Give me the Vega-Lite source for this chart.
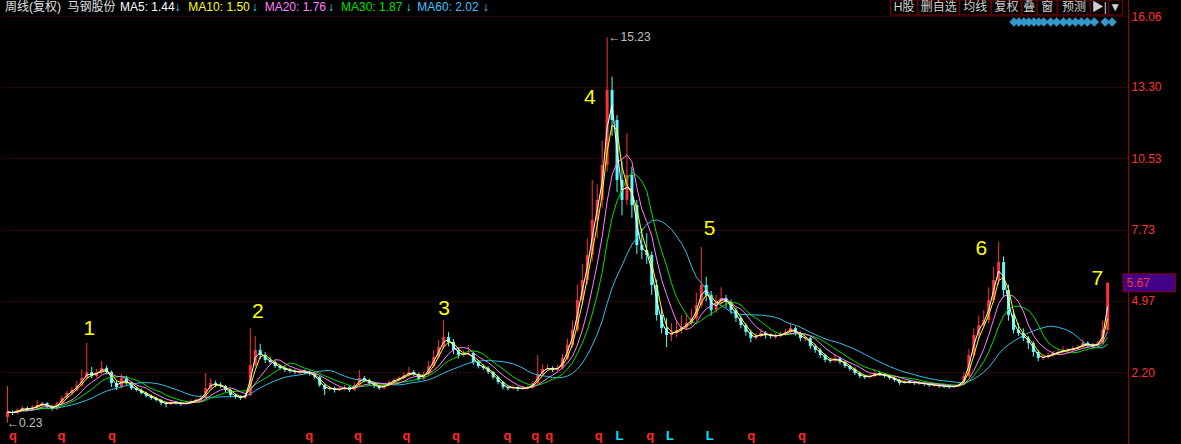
{
"$schema":"https://vega.github.io/schema/vega-lite/v6.json",
"width":1128,"height":444,
"autosize":{"type":"none"},
"padding":{"left":0,"top":0,"right":53,"bottom":0},
"background":"#000000",
"config":{"view":{"stroke":null},"text":{"font":"Liberation Sans, Noto Sans CJK SC"}},
"datasets":{
"candles":[
{"i":0,"o":0.45,"h":1.65,"l":0.23,"c":0.64},{"i":1,"o":0.64,"h":0.70,"l":0.52,"c":0.60},{"i":2,"o":0.60,"h":0.78,"l":0.55,"c":0.72},{"i":3,"o":0.72,"h":0.88,"l":0.68,"c":0.80},{"i":4,"o":0.80,"h":0.86,"l":0.66,"c":0.72},{"i":5,"o":0.72,"h":0.92,"l":0.68,"c":0.84},{"i":6,"o":0.84,"h":1.10,"l":0.80,"c":0.91},{"i":7,"o":0.91,"h":1.05,"l":0.86,"c":0.99},{"i":8,"o":0.99,"h":1.03,"l":0.78,"c":0.84},{"i":9,"o":0.84,"h":0.90,"l":0.70,"c":0.76},
{"i":10,"o":0.76,"h":1.05,"l":0.72,"c":0.99},{"i":11,"o":0.99,"h":1.28,"l":0.95,"c":1.19},{"i":12,"o":1.19,"h":1.47,"l":1.12,"c":1.38},{"i":13,"o":1.38,"h":1.62,"l":1.30,"c":1.50},{"i":14,"o":1.50,"h":1.85,"l":1.44,"c":1.69},{"i":15,"o":1.69,"h":2.30,"l":1.62,"c":1.97},{"i":16,"o":1.97,"h":3.33,"l":1.90,"c":2.20},{"i":17,"o":2.20,"h":2.40,"l":1.95,"c":2.04},{"i":18,"o":2.04,"h":2.32,"l":1.98,"c":2.20},{"i":19,"o":2.20,"h":2.62,"l":2.12,"c":2.36},
{"i":20,"o":2.36,"h":2.45,"l":2.10,"c":2.20},{"i":21,"o":2.20,"h":2.26,"l":1.62,"c":1.77},{"i":22,"o":1.77,"h":1.86,"l":1.50,"c":1.61},{"i":23,"o":1.61,"h":2.12,"l":1.56,"c":1.97},{"i":24,"o":1.97,"h":2.05,"l":1.70,"c":1.77},{"i":25,"o":1.77,"h":1.82,"l":1.50,"c":1.57},{"i":26,"o":1.57,"h":1.63,"l":1.44,"c":1.50},{"i":27,"o":1.50,"h":1.56,"l":1.32,"c":1.38},{"i":28,"o":1.38,"h":1.44,"l":1.21,"c":1.27},{"i":29,"o":1.27,"h":1.33,"l":1.12,"c":1.19},
{"i":30,"o":1.19,"h":1.24,"l":1.05,"c":1.11},{"i":31,"o":1.11,"h":1.16,"l":0.92,"c":0.99},{"i":32,"o":0.99,"h":1.05,"l":0.82,"c":0.95},{"i":33,"o":0.95,"h":1.10,"l":0.90,"c":1.03},{"i":34,"o":1.03,"h":1.08,"l":0.93,"c":0.99},{"i":35,"o":0.99,"h":1.04,"l":0.88,"c":0.95},{"i":36,"o":0.95,"h":1.06,"l":0.90,"c":0.99},{"i":37,"o":0.99,"h":1.14,"l":0.95,"c":1.07},{"i":38,"o":1.07,"h":1.18,"l":1.02,"c":1.11},{"i":39,"o":1.11,"h":1.30,"l":1.06,"c":1.19},
{"i":40,"o":1.19,"h":2.16,"l":1.15,"c":1.57},{"i":41,"o":1.57,"h":1.95,"l":1.50,"c":1.77},{"i":42,"o":1.77,"h":1.86,"l":1.60,"c":1.69},{"i":43,"o":1.69,"h":1.80,"l":1.58,"c":1.65},{"i":44,"o":1.65,"h":1.70,"l":1.42,"c":1.50},{"i":45,"o":1.50,"h":1.55,"l":1.22,"c":1.30},{"i":46,"o":1.30,"h":1.36,"l":1.16,"c":1.23},{"i":47,"o":1.23,"h":1.30,"l":1.12,"c":1.19},{"i":48,"o":1.19,"h":1.40,"l":1.15,"c":1.30},{"i":49,"o":1.30,"h":3.91,"l":1.26,"c":2.47},
{"i":50,"o":2.47,"h":3.60,"l":2.40,"c":3.06},{"i":51,"o":3.06,"h":3.30,"l":2.70,"c":2.86},{"i":52,"o":2.86,"h":2.98,"l":2.55,"c":2.67},{"i":53,"o":2.67,"h":2.80,"l":2.50,"c":2.59},{"i":54,"o":2.59,"h":2.66,"l":2.35,"c":2.43},{"i":55,"o":2.43,"h":2.50,"l":2.28,"c":2.36},{"i":56,"o":2.36,"h":2.42,"l":2.20,"c":2.28},{"i":57,"o":2.28,"h":2.35,"l":2.16,"c":2.24},{"i":58,"o":2.24,"h":2.30,"l":2.12,"c":2.20},{"i":59,"o":2.16,"h":2.28,"l":2.10,"c":2.20},
{"i":60,"o":2.24,"h":2.30,"l":2.12,"c":2.20},{"i":61,"o":2.20,"h":2.26,"l":2.05,"c":2.12},{"i":62,"o":2.12,"h":2.18,"l":1.92,"c":2.00},{"i":63,"o":2.00,"h":2.05,"l":1.62,"c":1.69},{"i":64,"o":1.69,"h":1.75,"l":1.30,"c":1.54},{"i":65,"o":1.54,"h":1.66,"l":1.48,"c":1.57},{"i":66,"o":1.57,"h":1.62,"l":1.40,"c":1.50},{"i":67,"o":1.50,"h":1.62,"l":1.45,"c":1.54},{"i":68,"o":1.54,"h":1.70,"l":1.48,"c":1.61},{"i":69,"o":1.61,"h":1.66,"l":1.42,"c":1.50},
{"i":70,"o":1.50,"h":1.80,"l":1.46,"c":1.69},{"i":71,"o":1.69,"h":2.28,"l":1.64,"c":1.97},{"i":72,"o":1.97,"h":2.05,"l":1.80,"c":1.89},{"i":73,"o":1.89,"h":1.94,"l":1.70,"c":1.77},{"i":74,"o":1.77,"h":1.82,"l":1.58,"c":1.65},{"i":75,"o":1.65,"h":1.70,"l":1.50,"c":1.57},{"i":76,"o":1.57,"h":1.76,"l":1.52,"c":1.69},{"i":77,"o":1.69,"h":1.88,"l":1.64,"c":1.81},{"i":78,"o":1.81,"h":1.96,"l":1.76,"c":1.89},{"i":79,"o":1.89,"h":2.05,"l":1.84,"c":1.97},
{"i":80,"o":1.97,"h":2.18,"l":1.92,"c":2.08},{"i":81,"o":2.08,"h":2.40,"l":2.02,"c":2.20},{"i":82,"o":2.20,"h":2.28,"l":2.04,"c":2.12},{"i":83,"o":2.12,"h":2.18,"l":1.86,"c":1.93},{"i":84,"o":1.93,"h":2.22,"l":1.88,"c":2.12},{"i":85,"o":2.12,"h":2.62,"l":2.08,"c":2.43},{"i":86,"o":2.43,"h":3.05,"l":2.38,"c":2.78},{"i":87,"o":2.78,"h":3.45,"l":2.72,"c":3.17},{"i":88,"o":3.17,"h":4.22,"l":3.10,"c":3.56},{"i":89,"o":3.56,"h":3.75,"l":3.20,"c":3.37},
{"i":90,"o":3.37,"h":3.48,"l":2.90,"c":3.06},{"i":91,"o":3.06,"h":3.15,"l":2.72,"c":2.86},{"i":92,"o":2.86,"h":3.05,"l":2.80,"c":2.90},{"i":93,"o":2.90,"h":3.25,"l":2.84,"c":2.94},{"i":94,"o":2.94,"h":3.00,"l":2.48,"c":2.59},{"i":95,"o":2.59,"h":2.66,"l":2.34,"c":2.43},{"i":96,"o":2.43,"h":2.50,"l":2.28,"c":2.36},{"i":97,"o":2.36,"h":2.42,"l":2.12,"c":2.20},{"i":98,"o":2.20,"h":2.25,"l":1.92,"c":2.00},{"i":99,"o":2.00,"h":2.06,"l":1.72,"c":1.81},
{"i":100,"o":1.81,"h":1.86,"l":1.52,"c":1.61},{"i":101,"o":1.61,"h":1.66,"l":1.48,"c":1.57},{"i":102,"o":1.57,"h":1.70,"l":1.52,"c":1.61},{"i":103,"o":1.61,"h":1.65,"l":1.45,"c":1.54},{"i":104,"o":1.54,"h":1.64,"l":1.50,"c":1.57},{"i":105,"o":1.57,"h":1.68,"l":1.52,"c":1.61},{"i":106,"o":1.61,"h":1.86,"l":1.56,"c":1.77},{"i":107,"o":1.77,"h":2.86,"l":1.72,"c":2.12},{"i":108,"o":2.12,"h":2.50,"l":2.06,"c":2.32},{"i":109,"o":2.32,"h":2.50,"l":2.26,"c":2.36},
{"i":110,"o":2.36,"h":2.42,"l":2.20,"c":2.28},{"i":111,"o":2.28,"h":2.48,"l":2.22,"c":2.36},{"i":112,"o":2.36,"h":2.90,"l":2.30,"c":2.74},{"i":113,"o":2.74,"h":3.50,"l":2.66,"c":3.25},{"i":114,"o":3.25,"h":4.20,"l":3.15,"c":3.84},{"i":115,"o":3.84,"h":5.60,"l":3.75,"c":5.00},{"i":116,"o":5.00,"h":6.40,"l":4.80,"c":5.78},{"i":117,"o":5.78,"h":7.40,"l":5.60,"c":6.76},{"i":118,"o":6.76,"h":9.68,"l":6.50,"c":8.12},{"i":119,"o":8.12,"h":9.50,"l":7.40,"c":8.90},
{"i":120,"o":8.90,"h":11.20,"l":8.60,"c":10.26},{"i":121,"o":10.26,"h":15.23,"l":10.00,"c":13.18},{"i":122,"o":13.18,"h":13.70,"l":11.40,"c":12.01},{"i":123,"o":12.01,"h":12.20,"l":9.20,"c":9.68},{"i":124,"o":9.68,"h":10.40,"l":8.30,"c":8.90},{"i":125,"o":8.90,"h":11.50,"l":8.70,"c":9.87},{"i":126,"o":9.87,"h":10.20,"l":8.20,"c":8.70},{"i":127,"o":8.70,"h":8.90,"l":6.80,"c":7.14},{"i":128,"o":7.14,"h":7.80,"l":6.60,"c":6.95},{"i":129,"o":6.95,"h":7.60,"l":6.40,"c":6.76},
{"i":130,"o":6.76,"h":6.90,"l":5.20,"c":5.59},{"i":131,"o":5.59,"h":5.80,"l":4.20,"c":4.42},{"i":132,"o":4.42,"h":4.70,"l":3.70,"c":3.91},{"i":133,"o":3.91,"h":4.30,"l":3.17,"c":3.64},{"i":134,"o":3.64,"h":4.10,"l":3.40,"c":3.72},{"i":135,"o":3.72,"h":4.20,"l":3.55,"c":3.84},{"i":136,"o":3.84,"h":4.40,"l":3.70,"c":3.95},{"i":137,"o":3.95,"h":4.50,"l":3.85,"c":4.11},{"i":138,"o":4.11,"h":4.65,"l":4.00,"c":4.30},{"i":139,"o":4.30,"h":5.30,"l":4.20,"c":4.81},
{"i":140,"o":4.81,"h":7.07,"l":4.70,"c":5.59},{"i":141,"o":5.59,"h":5.90,"l":4.95,"c":5.20},{"i":142,"o":5.20,"h":5.35,"l":4.40,"c":4.61},{"i":143,"o":4.61,"h":5.20,"l":4.50,"c":4.93},{"i":144,"o":4.93,"h":5.50,"l":4.80,"c":5.08},{"i":145,"o":5.08,"h":5.20,"l":4.70,"c":4.93},{"i":146,"o":4.93,"h":5.02,"l":4.45,"c":4.61},{"i":147,"o":4.61,"h":4.70,"l":4.15,"c":4.30},{"i":148,"o":4.30,"h":4.40,"l":3.90,"c":4.03},{"i":149,"o":4.03,"h":4.10,"l":3.62,"c":3.76},
{"i":150,"o":3.76,"h":3.85,"l":3.35,"c":3.52},{"i":151,"o":3.52,"h":3.72,"l":3.45,"c":3.60},{"i":152,"o":3.60,"h":3.85,"l":3.55,"c":3.72},{"i":153,"o":3.72,"h":3.80,"l":3.50,"c":3.64},{"i":154,"o":3.64,"h":3.70,"l":3.50,"c":3.60},{"i":155,"o":3.56,"h":3.72,"l":3.48,"c":3.60},{"i":156,"o":3.60,"h":3.78,"l":3.55,"c":3.68},{"i":157,"o":3.68,"h":3.88,"l":3.62,"c":3.76},{"i":158,"o":3.76,"h":4.12,"l":3.70,"c":3.91},{"i":159,"o":3.91,"h":3.98,"l":3.62,"c":3.72},
{"i":160,"o":3.72,"h":3.78,"l":3.40,"c":3.52},{"i":161,"o":3.48,"h":3.62,"l":3.40,"c":3.52},{"i":162,"o":3.52,"h":3.58,"l":3.10,"c":3.21},{"i":163,"o":3.21,"h":3.28,"l":2.95,"c":3.06},{"i":164,"o":3.06,"h":3.12,"l":2.75,"c":2.86},{"i":165,"o":2.86,"h":2.92,"l":2.58,"c":2.67},{"i":166,"o":2.67,"h":2.72,"l":2.55,"c":2.63},{"i":167,"o":2.63,"h":2.90,"l":2.58,"c":2.74},{"i":168,"o":2.74,"h":2.80,"l":2.50,"c":2.59},{"i":169,"o":2.59,"h":2.64,"l":2.35,"c":2.43},
{"i":170,"o":2.43,"h":2.48,"l":2.24,"c":2.32},{"i":171,"o":2.32,"h":2.38,"l":2.08,"c":2.16},{"i":172,"o":2.16,"h":2.22,"l":1.96,"c":2.04},{"i":173,"o":2.04,"h":2.10,"l":1.92,"c":2.00},{"i":174,"o":2.00,"h":2.12,"l":1.95,"c":2.04},{"i":175,"o":2.04,"h":2.30,"l":2.00,"c":2.16},{"i":176,"o":2.16,"h":2.22,"l":2.05,"c":2.12},{"i":177,"o":2.12,"h":2.16,"l":1.98,"c":2.04},{"i":178,"o":2.04,"h":2.08,"l":1.90,"c":1.97},{"i":179,"o":1.97,"h":2.02,"l":1.82,"c":1.89},
{"i":180,"o":1.89,"h":1.94,"l":1.70,"c":1.77},{"i":181,"o":1.77,"h":1.88,"l":1.73,"c":1.81},{"i":182,"o":1.84,"h":1.90,"l":1.75,"c":1.81},{"i":183,"o":1.81,"h":1.86,"l":1.70,"c":1.77},{"i":184,"o":1.74,"h":1.84,"l":1.70,"c":1.77},{"i":185,"o":1.77,"h":1.82,"l":1.66,"c":1.73},{"i":186,"o":1.73,"h":1.78,"l":1.62,"c":1.69},{"i":187,"o":1.66,"h":1.76,"l":1.62,"c":1.69},{"i":188,"o":1.69,"h":1.74,"l":1.58,"c":1.65},{"i":189,"o":1.68,"h":1.72,"l":1.58,"c":1.65},
{"i":190,"o":1.65,"h":1.70,"l":1.55,"c":1.61},{"i":191,"o":1.61,"h":1.72,"l":1.58,"c":1.65},{"i":192,"o":1.65,"h":1.82,"l":1.62,"c":1.73},{"i":193,"o":1.73,"h":2.20,"l":1.70,"c":2.04},{"i":194,"o":2.04,"h":3.10,"l":2.00,"c":2.86},{"i":195,"o":2.86,"h":3.90,"l":2.80,"c":3.64},{"i":196,"o":3.64,"h":4.40,"l":3.50,"c":4.03},{"i":197,"o":4.03,"h":4.60,"l":3.90,"c":4.22},{"i":198,"o":4.22,"h":5.50,"l":4.10,"c":5.00},{"i":199,"o":5.00,"h":6.30,"l":4.90,"c":5.78},
{"i":200,"o":5.78,"h":7.26,"l":5.60,"c":6.48},{"i":201,"o":6.48,"h":6.70,"l":5.10,"c":5.39},{"i":202,"o":5.39,"h":5.60,"l":4.20,"c":4.42},{"i":203,"o":4.42,"h":4.60,"l":3.70,"c":3.84},{"i":204,"o":3.84,"h":4.10,"l":3.60,"c":3.72},{"i":205,"o":3.72,"h":3.90,"l":3.40,"c":3.52},{"i":206,"o":3.52,"h":3.60,"l":3.10,"c":3.33},{"i":207,"o":3.33,"h":3.40,"l":2.80,"c":2.98},{"i":208,"o":2.98,"h":3.05,"l":2.62,"c":2.74},{"i":209,"o":2.74,"h":2.88,"l":2.66,"c":2.78},
{"i":210,"o":2.78,"h":2.95,"l":2.72,"c":2.86},{"i":211,"o":2.86,"h":3.02,"l":2.80,"c":2.94},{"i":212,"o":2.94,"h":3.10,"l":2.88,"c":2.98},{"i":213,"o":2.98,"h":3.20,"l":2.92,"c":3.06},{"i":214,"o":3.02,"h":3.14,"l":2.96,"c":3.06},{"i":215,"o":3.06,"h":3.22,"l":3.00,"c":3.13},{"i":216,"o":3.13,"h":3.26,"l":3.06,"c":3.17},{"i":217,"o":3.17,"h":3.50,"l":3.10,"c":3.33},{"i":218,"o":3.33,"h":3.40,"l":3.16,"c":3.25},{"i":219,"o":3.25,"h":3.32,"l":3.12,"c":3.21},
{"i":220,"o":3.21,"h":3.42,"l":3.15,"c":3.33},{"i":221,"o":3.33,"h":4.20,"l":3.28,"c":3.84},{"i":222,"o":3.84,"h":5.70,"l":3.80,"c":5.67}
],
"header":[
{"i":-0.5,"p":16.41,"t":"周线(复权)","k":"name"},
{"i":12.1,"p":16.41,"t":"马钢股份","k":"name"},
{"i":22.7,"p":16.41,"t":"MA5: 1.44","k":"ma5"},
{"i":33.7,"p":16.41,"t":"↓","k":"arrow"},
{"i":36.5,"p":16.41,"t":"MA10: 1.50","k":"ma10"},
{"i":49.3,"p":16.41,"t":"↓","k":"arrow"},
{"i":51.9,"p":16.41,"t":"MA20: 1.76","k":"ma20"},
{"i":64.7,"p":16.41,"t":"↓","k":"arrow"},
{"i":67.3,"p":16.41,"t":"MA30: 1.87","k":"ma30"},
{"i":80.3,"p":16.41,"t":"↓","k":"arrow"},
{"i":82.7,"p":16.41,"t":"MA60: 2.02","k":"ma60"},
{"i":95.9,"p":16.41,"t":"↓","k":"arrow"}
],
"buttons":[
{"a":178.16,"b":183.7,"m":180.9,"t":"H股"},
{"a":183.7,"b":192.16,"m":187.9,"t":"删自选"},
{"a":192.16,"b":198.5,"m":195.3,"t":"均线"},
{"a":198.5,"b":204.7,"m":201.6,"t":"复权"},
{"a":204.7,"b":207.76,"m":206.2,"t":"叠"},
{"a":207.76,"b":211.84,"m":209.8,"t":"窗"},
{"a":211.84,"b":218.5,"m":215.2,"t":"预测"},
{"a":218.5,"b":222.16,"m":220.3,"t":"▶|"},
{"a":222.16,"b":224.96,"m":223.5,"t":"▼"}
],
"diamonds":[
{"i":203.1},{"i":204.1},{"i":205.1},{"i":206.1},{"i":207.1},{"i":208.1},{"i":209.1},{"i":210.5},{"i":211.7},{"i":213.1},{"i":214.3},{"i":215.5},{"i":216.7},{"i":217.9},{"i":219.3},{"i":221.5},{"i":222.9}
],
"waves":[
{"i":16.5,"p":3.89,"t":"1"},{"i":50.5,"p":4.55,"t":"2"},{"i":88.1,"p":4.66,"t":"3"},{"i":117.5,"p":12.88,"t":"4"},{"i":141.7,"p":7.77,"t":"5"},{"i":196.5,"p":6.99,"t":"6"},{"i":219.9,"p":5.83,"t":"7"}
],
"marks":[
{"i":1.1,"p":-0.29,"t":"q","k":"q"},{"i":10.9,"p":-0.29,"t":"q","k":"q"},{"i":21.1,"p":-0.29,"t":"q","k":"q"},{"i":60.9,"p":-0.29,"t":"q","k":"q"},{"i":70.7,"p":-0.29,"t":"q","k":"q"},{"i":80.5,"p":-0.29,"t":"q","k":"q"},{"i":90.5,"p":-0.29,"t":"q","k":"q"},{"i":100.9,"p":-0.29,"t":"q","k":"q"},{"i":106.5,"p":-0.29,"t":"q","k":"q"},{"i":109.3,"p":-0.29,"t":"q","k":"q"},{"i":119.3,"p":-0.29,"t":"q","k":"q"},{"i":129.7,"p":-0.29,"t":"q","k":"q"},{"i":150.1,"p":-0.29,"t":"q","k":"q"},{"i":160.3,"p":-0.29,"t":"q","k":"q"},
{"i":123.5,"p":-0.29,"t":"L","k":"L"},{"i":133.7,"p":-0.29,"t":"L","k":"L"},{"i":141.7,"p":-0.29,"t":"L","k":"L"}
],
"extremes":[
{"i":121.3,"p":15.23,"t":"←15.23"},{"i":-0.1,"p":0.23,"t":"←0.23"}
],
"last":[{"a":225.1,"b":235.7,"i":225.8,"p":5.67,"top":6.02,"bot":5.32,"t":"5.67"}]
},
"layer":[
{"data":{"name":"candles"},"mark":{"type":"rule","strokeWidth":1},
 "encoding":{
  "x":{"field":"i","type":"quantitative","scale":{"domain":[-0.5,225.1],"nice":false,"zero":false},"axis":null},
  "y":{"field":"l","type":"quantitative","scale":{"domain":[-0.603,16.683],"nice":false,"zero":false},
   "axis":{"orient":"right","values":[2.2,4.97,7.73,10.53,13.3,16.06],"format":".2f","title":null,"ticks":false,"labelColor":"#ff3232","labelFont":"Liberation Sans","labelFontSize":12,"labelPadding":3,"labelFlush":false,"labelOverlap":false,"domainColor":"#a00000","domainWidth":1,"grid":true,"gridColor":"#a00000","gridDash":[1,3],"gridWidth":1}},
  "y2":{"field":"h"},
  "color":{"condition":{"test":"datum.c >= datum.o","value":"#ff3232"},"value":"#54fcfc"}}},
{"data":{"name":"candles"},"mark":{"type":"bar","size":3},
 "encoding":{
  "x":{"field":"i","type":"quantitative","scale":{"domain":[-0.5,225.1],"nice":false,"zero":false},"axis":null},
  "y":{"field":"o","type":"quantitative","scale":{"domain":[-0.603,16.683],"nice":false,"zero":false},"title":null},
  "y2":{"field":"c"},
  "color":{"condition":{"test":"datum.c >= datum.o","value":"#ff3232"},"value":"#54fcfc"}}},
{"data":{"name":"candles"},
 "transform":[{"window":[{"op":"mean","field":"c","as":"m"}],"frame":[-16,0],"sort":[{"field":"i"}]}],
 "mark":{"type":"line","strokeWidth":1,"color":"#30c0e8"},
 "encoding":{"x":{"field":"i","type":"quantitative","scale":{"domain":[-0.5,225.1],"nice":false,"zero":false},"axis":null},
  "y":{"field":"m","type":"quantitative","scale":{"domain":[-0.603,16.683],"nice":false,"zero":false},"title":null}}},
{"data":{"name":"candles"},
 "transform":[{"window":[{"op":"mean","field":"c","as":"m"}],"frame":[-8,0],"sort":[{"field":"i"}]}],
 "mark":{"type":"line","strokeWidth":1,"color":"#00e000"},
 "encoding":{"x":{"field":"i","type":"quantitative","scale":{"domain":[-0.5,225.1],"nice":false,"zero":false},"axis":null},
  "y":{"field":"m","type":"quantitative","scale":{"domain":[-0.603,16.683],"nice":false,"zero":false},"title":null}}},
{"data":{"name":"candles"},
 "transform":[{"window":[{"op":"mean","field":"c","as":"m"}],"frame":[-5,0],"sort":[{"field":"i"}]}],
 "mark":{"type":"line","strokeWidth":1,"color":"#ff80ff"},
 "encoding":{"x":{"field":"i","type":"quantitative","scale":{"domain":[-0.5,225.1],"nice":false,"zero":false},"axis":null},
  "y":{"field":"m","type":"quantitative","scale":{"domain":[-0.603,16.683],"nice":false,"zero":false},"title":null}}},
{"data":{"name":"candles"},
 "transform":[{"window":[{"op":"mean","field":"c","as":"m"}],"frame":[-2,0],"sort":[{"field":"i"}]}],
 "mark":{"type":"line","strokeWidth":1,"color":"#ffff00"},
 "encoding":{"x":{"field":"i","type":"quantitative","scale":{"domain":[-0.5,225.1],"nice":false,"zero":false},"axis":null},
  "y":{"field":"m","type":"quantitative","scale":{"domain":[-0.603,16.683],"nice":false,"zero":false},"title":null}}},
{"data":{"name":"candles"},
 "transform":[{"window":[{"op":"mean","field":"c","as":"m"}],"frame":[-1,0],"sort":[{"field":"i"}]}],
 "mark":{"type":"line","strokeWidth":1,"color":"#ffffff"},
 "encoding":{"x":{"field":"i","type":"quantitative","scale":{"domain":[-0.5,225.1],"nice":false,"zero":false},"axis":null},
  "y":{"field":"m","type":"quantitative","scale":{"domain":[-0.603,16.683],"nice":false,"zero":false},"title":null}}},
{"data":{"name":"header"},"mark":{"type":"text","align":"left","baseline":"middle","fontSize":12},
 "encoding":{"x":{"field":"i","type":"quantitative","scale":{"domain":[-0.5,225.1],"nice":false,"zero":false},"axis":null},
  "y":{"field":"p","type":"quantitative","scale":{"domain":[-0.603,16.683],"nice":false,"zero":false},"title":null},
  "text":{"field":"t"},
  "color":{"field":"k","type":"nominal","legend":null,"scale":{"domain":["name","ma5","ma10","ma20","ma30","ma60","arrow","q","L"],"range":["#e0e0e0","#ffffff","#ffff00","#ff80ff","#00e000","#40c0ff","#40e0ff","#ff2828","#00e0ff"]}}}},
{"data":{"name":"buttons"},"mark":{"type":"rect","fill":"#000000","stroke":"#8b0000","strokeWidth":1},
 "encoding":{"x":{"field":"a","type":"quantitative","scale":{"domain":[-0.5,225.1],"nice":false,"zero":false},"axis":null},
  "x2":{"field":"b"},
  "y":{"datum":16.683,"type":"quantitative","scale":{"domain":[-0.603,16.683],"nice":false,"zero":false},"title":null},
  "y2":{"datum":16.10}}},
{"data":{"name":"buttons"},"mark":{"type":"text","align":"center","baseline":"middle","fontSize":12,"color":"#d0d0d0"},
 "encoding":{"x":{"field":"m","type":"quantitative","scale":{"domain":[-0.5,225.1],"nice":false,"zero":false},"axis":null},
  "y":{"datum":16.41,"type":"quantitative","scale":{"domain":[-0.603,16.683],"nice":false,"zero":false},"title":null},
  "text":{"field":"t"}}},
{"data":{"name":"diamonds"},"mark":{"type":"point","shape":"diamond","filled":true,"size":90,"color":"#3399cc","opacity":1},
 "encoding":{"x":{"field":"i","type":"quantitative","scale":{"domain":[-0.5,225.1],"nice":false,"zero":false},"axis":null},
  "y":{"datum":15.83,"type":"quantitative","scale":{"domain":[-0.603,16.683],"nice":false,"zero":false},"title":null}}},
{"data":{"name":"waves"},"mark":{"type":"text","align":"center","baseline":"middle","fontSize":21,"color":"#ffff00"},
 "encoding":{"x":{"field":"i","type":"quantitative","scale":{"domain":[-0.5,225.1],"nice":false,"zero":false},"axis":null},
  "y":{"field":"p","type":"quantitative","scale":{"domain":[-0.603,16.683],"nice":false,"zero":false},"title":null},
  "text":{"field":"t"}}},
{"data":{"name":"marks"},"mark":{"type":"text","align":"center","baseline":"middle","fontSize":13,"fontWeight":"bold"},
 "encoding":{"x":{"field":"i","type":"quantitative","scale":{"domain":[-0.5,225.1],"nice":false,"zero":false},"axis":null},
  "y":{"field":"p","type":"quantitative","scale":{"domain":[-0.603,16.683],"nice":false,"zero":false},"title":null},
  "text":{"field":"t"},
  "color":{"field":"k","type":"nominal","legend":null,"scale":{"domain":["name","ma5","ma10","ma20","ma30","ma60","arrow","q","L"],"range":["#e0e0e0","#ffffff","#ffff00","#ff80ff","#00e000","#40c0ff","#40e0ff","#ff2828","#00e0ff"]}}}},
{"data":{"name":"extremes"},"mark":{"type":"text","align":"left","baseline":"middle","fontSize":12,"color":"#c0c0c0"},
 "encoding":{"x":{"field":"i","type":"quantitative","scale":{"domain":[-0.5,225.1],"nice":false,"zero":false},"axis":null},
  "y":{"field":"p","type":"quantitative","scale":{"domain":[-0.603,16.683],"nice":false,"zero":false},"title":null},
  "text":{"field":"t"}}},
{"data":{"name":"last"},"mark":{"type":"rect","fill":"#400088","stroke":"#8b0000","strokeWidth":1},
 "encoding":{"x":{"field":"a","type":"quantitative","scale":{"domain":[-0.5,225.1],"nice":false,"zero":false},"axis":null},
  "x2":{"field":"b"},
  "y":{"field":"top","type":"quantitative","scale":{"domain":[-0.603,16.683],"nice":false,"zero":false},"title":null},
  "y2":{"field":"bot"}}},
{"data":{"name":"last"},"mark":{"type":"text","align":"left","baseline":"middle","fontSize":12,"color":"#ff3232","font":"Liberation Sans"},
 "encoding":{"x":{"field":"i","type":"quantitative","scale":{"domain":[-0.5,225.1],"nice":false,"zero":false},"axis":null},
  "y":{"field":"p","type":"quantitative","scale":{"domain":[-0.603,16.683],"nice":false,"zero":false},"title":null},
  "text":{"field":"t"}}}
]
}
